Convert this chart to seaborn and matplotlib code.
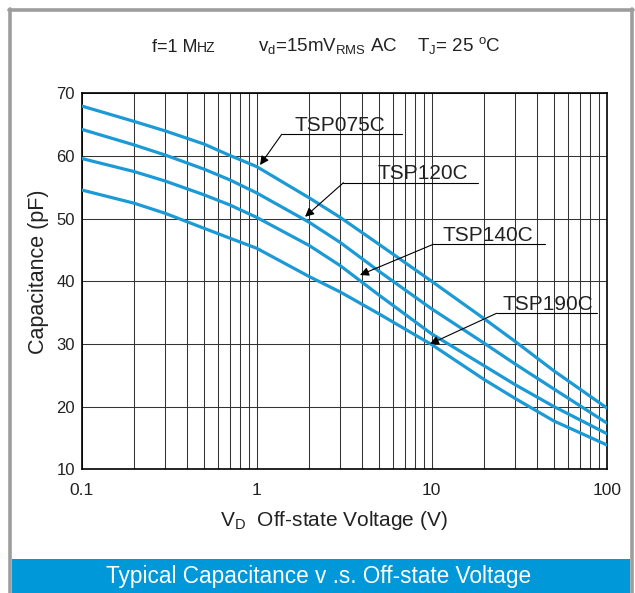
import numpy as np
import pandas as pd
import matplotlib
matplotlib.use("Agg")
import matplotlib.pyplot as plt
from matplotlib.patches import Rectangle
from matplotlib.lines import Line2D
from matplotlib.ticker import LogLocator, FixedLocator, NullFormatter
import seaborn as sns

# ---- data ----
voltage = [0.1, 0.2, 0.3, 0.5, 0.7, 1, 2, 3, 5, 10, 20, 30, 50, 100]
tsp075c = [67.97, 65.5, 64.0, 61.9, 60.1, 58.3, 53.3, 50.2, 45.9, 40.0, 34.0, 30.4, 25.7, 19.8]
tsp120c = [64.25, 61.75, 60.15, 57.9, 56.2, 54.1, 49.4, 46.2, 41.6, 35.6, 30.1, 26.8, 22.8, 17.4]
tsp140c = [59.6, 57.5, 56.0, 53.8, 52.2, 50.2, 45.7, 42.5, 37.8, 31.6, 26.5, 23.5, 20.0, 15.7]
tsp190c = [54.57, 52.45, 50.85, 48.46, 46.9, 45.27, 40.74, 38.3, 34.8, 29.9, 24.3, 21.3, 17.7, 13.9]
series_names = ["TSP075C", "TSP120C", "TSP140C", "TSP190C"]

x_ticks = [0.1, 1, 10, 100]
x_tick_labels = ["0.1", "1", "10", "100"]
y_ticks = [10, 20, 30, 40, 50, 60, 70]

# annotation: label, arrow tip (V, C), underline start V, underline end V, underline C, text V, text baseline C
annotations = [
    ("TSP075C", (1.045, 58.56), 1.39, 6.75, 63.46, 2.99, 63.95),
    ("TSP120C", (1.89, 50.3), 3.13, 18.4, 55.73, 8.9, 56.25),
    ("TSP140C", (3.89, 41.0), 10.2, 44.4, 45.9, 21.0, 46.4),
    ("TSP190C", (9.77, 30.0), 23.5, 87.7, 34.9, 46.4, 35.4),
]

df = pd.DataFrame({
    "V": voltage * 4,
    "C": tsp075c + tsp120c + tsp140c + tsp190c,
    "series": sum([[n] * len(voltage) for n in series_names], []),
})

sns.set_style("white")
plt.rcParams["font.family"] = ["Liberation Sans", "DejaVu Sans"]
plt.rcParams["mathtext.fontset"] = "custom"
plt.rcParams["mathtext.rm"] = "Liberation Sans"
plt.rcParams["mathtext.it"] = "Liberation Sans"

W, H = 635, 593
fig = plt.figure(figsize=(W / 100, H / 100), dpi=100)
ax = fig.add_axes([81.7 / W, 1 - 469.3 / H, (606.7 - 81.7) / W, (469.3 - 93.3) / H])

blue = "#1B9AD6"
sns.lineplot(data=df, x="V", y="C", hue="series", palette=[blue] * 4,
             linewidth=2.3, legend=False, ax=ax, zorder=3)

ax.set_xscale("log")
ax.set_xlim(0.1, 100)
ax.set_ylim(10, 70)
ax.xaxis.set_major_locator(FixedLocator(x_ticks))
ax.set_xticklabels(x_tick_labels)
ax.xaxis.set_minor_locator(LogLocator(base=10, subs=np.arange(2, 10)))
ax.xaxis.set_minor_formatter(NullFormatter())
ax.set_yticks(y_ticks)

grid_kw = dict(color="#333333", linewidth=0.75)
ax.xaxis.grid(True, which="both", **grid_kw)
ax.yaxis.grid(True, which="major", **grid_kw)
ax.set_axisbelow(True)

for s in ax.spines.values():
    s.set_color("black")
    s.set_linewidth(1.2)

ax.tick_params(axis="both", which="both", length=0)
ax.tick_params(axis="y", labelsize=12, pad=5, colors="#222222")
ax.tick_params(axis="x", labelsize=12.5, pad=10, colors="#222222")

ax.set_xlabel(r"V$_\mathregular{D}$  Off-state Voltage (V)", fontsize=15, color="#222222")
ax.xaxis.label.set_va("center")
ax.xaxis.set_label_coords(0.480, -0.135)
ax.set_ylabel("Capacitance (pF)", fontsize=15.5, color="#222222")
ax.yaxis.label.set_va("center")
ax.yaxis.set_label_coords(-0.0832, 0.5255)

for label, tip, x0, x1, yl, xt, yt in annotations:
    ax.plot([x0, x1], [yl, yl], color="black", lw=0.8, zorder=4)
    ax.annotate("", xy=tip, xytext=(x0, yl),
                arrowprops=dict(arrowstyle="-|>", color="black", lw=0.8,
                                mutation_scale=13, shrinkA=0, shrinkB=0),
                zorder=4)
    ax.text(xt, yt, label, fontsize=15, ha="center", va="baseline",
            color="#222222", zorder=5)

# header
hy = 1 - 51.5 / H
fig.text(151.7 / W, hy, "f=1 M", fontsize=13, ha="left", va="baseline", color="#222222")
fig.text(197 / W, hy, "HZ", fontsize=10, ha="left", va="baseline", color="#222222")
fig.text(258.3 / W, hy, r"v$_\mathregular{d}$=15mV$_\mathregular{RMS}$ AC", fontsize=13.5,
         ha="left", va="baseline", color="#222222")
fig.text(416.7 / W, hy, r"T$_\mathregular{J}$= 25 $^\mathregular{o}$C", fontsize=13.5,
         ha="left", va="baseline", color="#222222")

# frame and banner
fig.patches.append(Rectangle((12 / W, 0), (630 - 12) / W, 34 / H, transform=fig.transFigure,
                             facecolor="#0098D8", edgecolor="none", zorder=1))
fig.text(318.5 / W, 1 - 577 / H, "Typical Capacitance v .s. Off-state Voltage", fontsize=16.3,
         ha="center", va="center", color="white")
gray = "#9d9d9d"
fig.lines.append(Line2D([10 / W, 10 / W], [0, 1 - 8.5 / H], transform=fig.transFigure, color=gray, lw=2.6))
fig.lines.append(Line2D([631.5 / W, 631.5 / W], [0, 1 - 8.5 / H], transform=fig.transFigure, color=gray, lw=2.6))
fig.lines.append(Line2D([8.5 / W, 633 / W], [1 - 10 / H, 1 - 10 / H], transform=fig.transFigure, color=gray, lw=2.6))

fig.savefig("out.png", dpi=100)
